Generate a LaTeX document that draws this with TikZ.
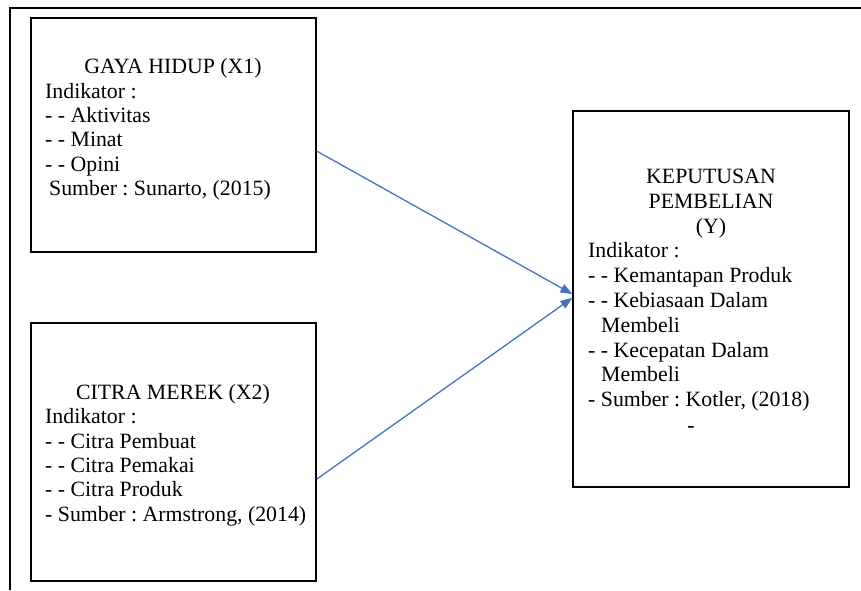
\documentclass[tikz,border=0pt]{standalone}
\usepackage{fontspec}
\setmainfont{Liberation Serif}
\usetikzlibrary{arrows.meta,calc}
\definecolor{arrowblue}{HTML}{4472C4}
\frenchspacing
\begin{document}
\begin{tikzpicture}[x=1pt,y=-1pt,
  box/.style={draw=black, line width=1.2pt, inner sep=0pt},
  txt/.style={anchor=base west, inner sep=0pt, font=\fontsize{21.8}{26}\selectfont},
  ttl/.style={anchor=base, inner sep=0pt, font=\fontsize{21.8}{26}\selectfont},
  conn/.style={draw=arrowblue, line width=1.3pt, -{Triangle[length=12pt,width=9pt]}}]
\useasboundingbox (0,0) rectangle (861,590);
% outer frame
\draw[line width=1.1pt] (10,590) -- (10,8) -- (861,8);
% boxes
\node[box, minimum width=285pt, minimum height=234pt] (b1) at (173.5,135) {};
\node[box, minimum width=285pt, minimum height=258pt] (b2) at (173.5,452) {};
\node[box, minimum width=276pt, minimum height=376pt] (b3) at (711,299) {};
% box 1 text
\node[ttl] (t1a) at (173,73.5) {GAYA HIDUP (X1)};
\node[txt] (t1b) at (45,98) {Indikator :};
\node[txt] (t1c) at (45,122.3) {- - Aktivitas};
\node[txt] (t1d) at (45,146.6) {- - Minat};
\node[txt] (t1e) at (45,171) {- - Opini};
\node[txt] (t1f) at (49,195.3) {Sumber : Sunarto, (2015)};
% box 2 text
\node[ttl] (t2a) at (173,399) {CITRA MEREK (X2)};
\node[txt] (t2b) at (45,423.7) {Indikator :};
\node[txt] (t2c) at (45,448) {- - Citra Pembuat};
\node[txt] (t2d) at (45,472.3) {- - Citra Pemakai};
\node[txt] (t2e) at (45,496.6) {- - Citra Produk};
\node[txt] (t2f) at (45,521) {- Sumber : Armstrong, (2014)};
% box 3 text
\node[ttl] (t3a) at (711,183.5) {KEPUTUSAN};
\node[ttl] (t3b) at (711,208.3) {PEMBELIAN};
\node[ttl] (t3c) at (711,233.1) {(Y)};
\node[txt] (t3d) at (588,257.9) {Indikator :};
\node[txt] (t3e) at (588,282.7) {- - Kemantapan Produk};
\node[txt] (t3f) at (588,307.5) {- - Kebiasaan Dalam};
\node[txt] (t3g) at (601,332.3) {Membeli};
\node[txt] (t3h) at (588,357.1) {- - Kecepatan Dalam};
\node[txt] (t3i) at (601,381.9) {Membeli};
\node[txt] (t3j) at (588,406.7) {- Sumber : Kotler, (2018)};
\node[ttl] (t3k) at (691,432) {-};
% connectors
\draw[conn] ($(b1.north east)!0.568!(b1.south east)$) -- ($(b3.north west)!0.487!(b3.south west)$);
\draw[conn] ($(b2.north east)!0.605!(b2.south east)$) -- ($(b3.north west)!0.497!(b3.south west)$);
\end{tikzpicture}
\end{document}
